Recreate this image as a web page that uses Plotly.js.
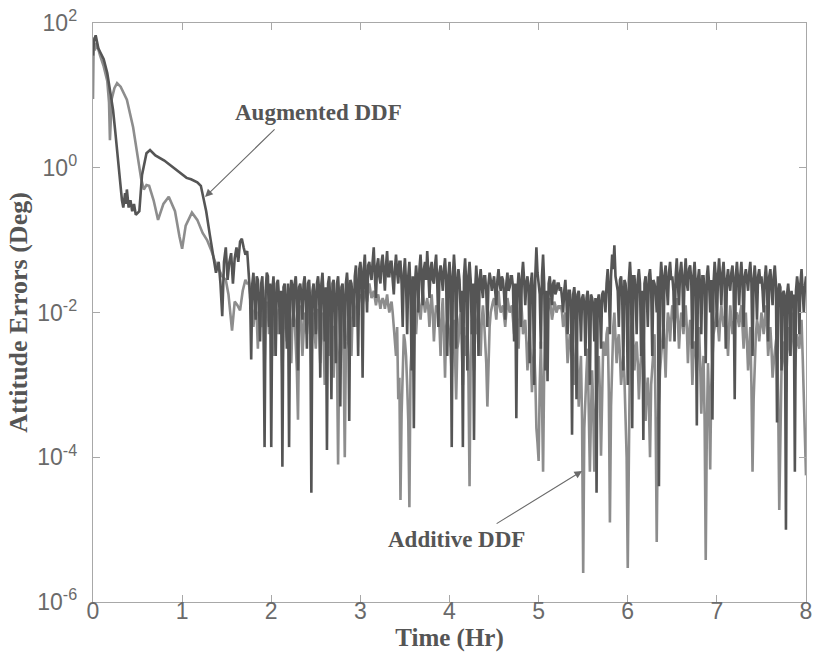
<!DOCTYPE html>
<html>
<head>
<meta charset="utf-8">
<script src="https://cdn.plot.ly/plotly-3.0.1.min.js"></script>
<style>html,body{margin:0;padding:0;background:#fff;}#chart{width:813px;height:657px;}</style>
</head>
<body>
<div id="chart"></div>
<script>
// ---- Data (y values stored as log10 of attitude error in degrees) ----
// Early transient, explicit time samples (hours)
var augEarlyT = [0,0.01,0.03,0.06,0.08,0.12,0.16,0.2,0.225,0.25,0.28,0.3,0.325,0.34,0.36,0.37,0.38,0.4,0.42,0.44,0.46,0.48,0.5,0.52,0.55,0.6,0.64,0.7,0.8,0.9,1.0,1.05,1.1,1.17,1.21,1.24,1.27,1.31,1.35,1.38,1.41,1.43,1.45,1.47,1.49,1.51,1.53,1.55,1.57,1.59,1.61,1.63,1.65,1.67,1.69,1.71,1.73];
var augEarlyLog = [1.55,1.75,1.83,1.65,1.6,1.5,1.31,1.0,0.8,0.5,0.11,-0.2,-0.45,-0.55,-0.35,-0.5,-0.3,-0.55,-0.45,-0.6,-0.5,-0.65,-0.62,-0.6,-0.1,0.2,0.245,0.17,0.1,0.0,-0.1,-0.14,-0.16,-0.2,-0.25,-0.42,-0.6,-0.92,-1.2,-1.45,-1.3,-1.6,-2.05,-1.3,-1.1,-1.55,-1.3,-1.18,-1.6,-1.25,-1.1,-1.3,-1.02,-0.98,-1.1,-1.2,-1.15];

var addEarlyT = [0,0.008,0.02,0.04,0.08,0.12,0.16,0.18,0.19,0.2,0.21,0.24,0.27,0.31,0.38,0.45,0.5,0.54,0.57,0.6,0.63,0.68,0.73,0.79,0.85,0.92,0.97,1.0,1.04,1.11,1.17,1.23,1.28,1.33,1.37,1.41,1.45,1.49,1.52,1.56,1.59,1.62,1.65,1.68,1.71,1.73];
var addEarlyLog = [0.95,1.8,1.62,1.72,1.55,1.4,1.2,0.9,0.38,0.7,0.95,1.1,1.17,1.12,0.94,0.56,0.2,-0.15,-0.3,-0.24,-0.25,-0.45,-0.72,-0.5,-0.4,-0.6,-0.95,-1.12,-0.8,-0.62,-0.72,-0.9,-1.0,-1.15,-1.3,-1.4,-1.5,-1.55,-1.75,-2.25,-1.85,-1.9,-1.97,-1.7,-1.55,-1.6];

// Steady-state noisy part, uniform time grid (each row = 0.25 hr)
var noiseStart = 1.75;
var noiseStep = 0.0125;
var augNoiseLog = [
-1.5,-1.75,-2.65,-1.6,-1.45,-1.7,-2.1,-1.5,-1.55,-1.9,-2.4,-1.6,-1.5,-2.0,-3.86,-1.7,-1.45,-1.5,-2.2,-1.6,
-3.86,-1.7,-1.5,-1.9,-2.6,-1.6,-1.55,-1.8,-2.3,-1.7,-4.13,-1.65,-1.6,-1.9,-2.5,-1.6,-3.86,-1.75,-1.55,-1.65,
-2.2,-1.6,-1.5,-1.8,-2.8,-1.65,-1.6,-1.75,-2.1,-1.6,-1.5,-1.85,-2.5,-1.6,-1.55,-1.9,-4.49,-1.7,-1.6,-1.8,
-2.3,-1.6,-1.5,-1.7,-2.9,-1.6,-1.45,-1.8,-2.4,-1.65,-3.9,-1.6,-1.5,-1.85,-3.2,-1.6,-1.55,-1.9,-2.7,-1.6,
-1.5,-1.8,-3.3,-1.65,-1.6,-1.9,-2.5,-1.6,-1.45,-1.7,-3.5,-1.55,-1.6,-1.8,-2.2,-1.5,-1.35,-1.7,-2.6,-1.4,
-1.3,-1.5,-2.9,-1.4,-1.2,-1.6,-2.0,-1.35,-1.3,-1.45,-1.55,-1.3,-1.1,-1.5,-1.8,-1.35,-1.25,-1.5,-1.6,-1.3,
-1.2,-1.45,-1.7,-1.35,-1.15,-1.5,-1.5,-1.3,-1.3,-1.55,-1.75,-1.4,-1.2,-1.45,-1.6,-1.3,-1.3,-1.6,-2.2,-1.45,
-1.25,-1.6,-2.3,-1.5,-1.3,-1.7,-2.8,-1.5,-3.6,-1.6,-1.35,-1.55,-2.0,-1.4,-1.2,-1.5,-1.9,-1.4,-1.3,-1.55,
-1.15,-1.45,-1.8,-1.4,-1.3,-1.55,-1.6,-1.35,-1.2,-1.6,-2.2,-1.45,-1.35,-1.5,-1.7,-1.4,-1.25,-1.55,-2.6,-1.5,
-1.3,-1.6,-3.86,-1.5,-1.2,-1.45,-2.5,-1.6,-1.4,-1.55,-2.0,-1.7,-3.86,-1.5,-1.25,-1.6,-2.8,-1.5,-1.3,-1.55,
-2.3,-1.6,-3.76,-1.7,-1.35,-1.6,-2.6,-1.55,-1.4,-1.65,-1.8,-1.5,-1.5,-1.7,-2.2,-1.6,-1.45,-1.55,-1.7,-1.6,
-1.5,-1.7,-1.9,-1.55,-1.4,-1.6,-1.7,-1.5,-1.55,-1.75,-2.1,-1.6,-1.45,-1.7,-1.65,-1.5,-1.5,-1.65,-2.4,-1.6,
-3.46,-1.7,-1.45,-1.6,-2.2,-1.5,-1.3,-1.55,-1.9,-1.6,-1.5,-1.7,-2.7,-1.6,-1.45,-1.75,-3.0,-1.5,-1.1,-1.45,
-1.6,-1.75,-2.5,-1.5,-1.2,-1.6,-2.8,-1.7,-2.95,-1.6,-1.5,-1.7,-1.9,-1.6,-1.55,-1.75,-1.7,-1.6,-1.6,-1.7,
-1.65,-1.8,-2.0,-1.7,-1.55,-1.85,-2.3,-1.7,-1.7,-1.9,-3.69,-1.75,-1.65,-1.85,-3.2,-1.75,-1.7,-1.9,-2.4,-1.8,
-1.75,-1.9,-2.6,-1.8,-1.7,-1.95,-3.0,-1.75,-1.8,-1.9,-2.4,-1.8,-4.49,-1.85,-1.75,-1.9,-2.5,-1.75,-1.7,-1.8,
-2.0,-1.6,-1.4,-1.7,-2.3,-1.5,-1.2,-1.4,-1.07,-1.5,-1.6,-1.7,-2.2,-1.55,-1.5,-1.75,-2.8,-1.55,-1.6,-1.8,
-3.0,-1.55,-1.3,-1.6,-3.6,-1.5,-1.5,-1.7,-2.3,-1.55,-1.4,-1.6,-2.6,-1.7,-3.76,-1.6,-1.5,-1.7,-2.2,-1.5,
-1.4,-1.65,-2.6,-1.55,-1.6,-1.7,-2.0,-1.5,-4.4,-1.6,-1.3,-1.55,-2.5,-1.5,-1.35,-1.6,-1.9,-1.45,-1.3,-1.55,
-1.5,-1.7,-2.4,-1.5,-1.25,-1.6,-1.9,-1.45,-1.3,-1.55,-2.2,-1.5,-1.25,-1.6,-1.7,-1.4,-1.35,-1.55,-2.5,-1.5,
-1.3,-1.6,-3.56,-1.55,-1.4,-1.65,-2.3,-1.5,-1.5,-1.7,-2.7,-1.5,-1.35,-1.6,-2.0,-1.55,-3.48,-1.6,-1.3,-1.5,
-2.2,-1.5,-1.25,-1.55,-1.9,-1.45,-1.3,-1.6,-2.5,-1.55,-1.4,-1.6,-1.7,-1.45,-1.35,-1.6,-3.2,-1.5,-1.3,-1.55,
-1.9,-1.5,-1.3,-1.6,-2.2,-1.5,-1.4,-1.55,-1.7,-1.45,-1.3,-1.6,-2.6,-1.55,-1.35,-1.6,-2.1,-1.5,-1.4,-1.6,
-1.5,-1.7,-2.0,-1.55,-1.35,-1.6,-2.4,-1.5,-1.4,-1.65,-1.9,-1.5,-1.35,-1.6,-3.52,-1.7,-1.6,-1.65,-2.8,-1.75,
-1.7,-1.8,-5.0,-1.75,-1.6,-1.8,-2.6,-1.7,-1.9,-1.75,-4.2,-1.7,-1.5,-1.65,-2.3,-1.6,-1.4,-1.7,-2.0,-1.65,
-1.5];
var addNoiseLog = [
-1.6,-1.8,-1.9,-2.0,-2.2,-1.95,-1.8,-2.1,-2.5,-2.0,-1.9,-2.2,-2.1,-1.9,-2.8,-2.0,-1.85,-2.0,-2.3,-1.9,
-2.0,-2.2,-2.6,-2.0,-1.9,-2.1,-2.3,-1.95,-2.1,-2.3,-2.9,-2.1,-1.95,-2.2,-2.4,-1.9,-2.0,-2.3,-2.7,-2.1,
-2.0,-2.1,-2.4,-2.8,-3.48,-2.2,-1.9,-2.1,-2.6,-2.2,-2.0,-2.15,-2.3,-2.0,-1.9,-2.2,-2.8,-2.1,-2.0,-2.3,
-2.5,-2.1,-1.95,-2.2,-2.7,-2.1,-2.0,-2.4,-3.0,-2.2,-2.1,-2.3,-2.6,-2.1,-1.9,-2.3,-2.9,-2.2,-2.2,-2.6,
-4.1,-2.6,-2.3,-2.1,-2.0,-2.7,-4.0,-2.5,-2.4,-2.1,-1.9,-2.2,-2.6,-2.0,-1.8,-2.0,-2.2,-1.9,-1.7,-1.8,
-1.75,-1.8,-1.9,-1.8,-1.7,-1.75,-1.85,-1.7,-1.6,-1.7,-1.8,-1.75,-1.7,-1.8,-1.9,-1.8,-1.75,-1.85,-1.95,-1.85,
-1.8,-1.85,-1.95,-1.85,-1.75,-1.9,-2.0,-1.9,-1.85,-2.0,-2.2,-2.4,-2.6,-2.2,-3.2,-2.9,-4.59,-3.4,-2.8,-2.3,
-2.4,-2.6,-3.0,-3.5,-4.69,-2.8,-2.5,-2.2,-2.0,-2.1,-2.3,-2.0,-1.8,-1.95,-2.1,-1.9,-1.7,-1.85,-2.0,-1.9,
-1.8,-1.95,-2.2,-1.9,-1.75,-2.0,-2.4,-2.1,-1.9,-1.95,-2.0,-2.2,-2.6,-2.0,-1.8,-2.3,-2.9,-2.2,-2.1,-2.2,
-2.3,-2.5,-2.9,-2.3,-2.1,-2.6,-3.2,-2.5,-2.4,-2.1,-2.0,-2.4,-3.0,-2.2,-2.6,-2.4,-2.3,-2.9,-4.4,-2.6,
-2.1,-2.4,-2.8,-2.2,-2.3,-2.1,-2.0,-2.3,-2.6,-2.1,-1.9,-2.1,-2.4,-2.7,-3.3,-2.5,-2.2,-2.0,-1.9,-1.85,
-1.8,-1.95,-2.1,-1.85,-1.7,-1.9,-2.0,-1.95,-1.9,-2.05,-2.2,-2.0,-1.8,-1.9,-2.0,-1.95,-1.9,-2.1,-2.3,-2.1,
-2.0,-2.2,-2.5,-2.0,-1.8,-2.0,-2.3,-2.2,-2.1,-2.4,-2.8,-2.5,-2.3,-2.6,-3.1,-2.7,-2.5,-2.9,-3.6,-3.8,
-4.05,-3.0,-2.4,-3.2,-4.2,-2.8,-2.2,-2.1,-2.0,-1.9,-1.8,-1.95,-2.1,-2.0,-1.85,-1.9,-2.0,-1.95,-1.9,-1.95,
-1.9,-2.0,-2.2,-2.1,-2.0,-2.3,-2.7,-2.5,-2.3,-2.4,-2.6,-2.8,-3.0,-2.6,-2.4,-2.8,-3.3,-2.9,-2.6,-3.5,
-5.6,-3.6,-3.1,-2.8,-2.5,-3.2,-4.2,-3.4,-2.8,-3.3,-4.2,-3.5,-3.0,-2.7,-2.6,-3.1,-3.98,-2.9,-2.4,-2.5,
-2.6,-2.3,-2.2,-3.1,-4.9,-3.3,-2.5,-2.2,-2.0,-2.3,-2.7,-2.4,-2.3,-2.6,-3.0,-2.8,-2.6,-2.9,-3.4,-4.0,
-5.53,-3.5,-2.5,-2.2,-2.1,-2.4,-2.8,-2.5,-2.4,-2.7,-3.2,-2.8,-2.6,-2.3,-2.2,-2.8,-3.5,-3.1,-2.9,-3.3,
-4.0,-3.0,-2.7,-2.4,-2.3,-3.4,-5.17,-3.6,-3.1,-2.8,-2.6,-2.3,-2.2,-2.5,-2.9,-2.3,-2.0,-2.1,-2.4,-2.1,
-1.9,-2.0,-2.2,-1.95,-1.8,-2.1,-2.5,-2.2,-2.0,-2.1,-2.3,-2.05,-1.9,-2.2,-2.7,-2.3,-2.1,-2.4,-3.0,-2.6,
-2.4,-2.5,-2.8,-2.4,-2.2,-2.7,-3.4,-2.9,-2.6,-3.5,-5.42,-3.6,-2.7,-3.2,-4.17,-3.0,-2.5,-2.3,-2.2,-2.1,
-2.0,-2.2,-2.4,-2.1,-1.9,-2.05,-2.2,-2.1,-2.0,-2.3,-2.6,-2.2,-1.9,-2.1,-2.3,-2.15,-2.1,-2.05,-2.0,-2.1,
-2.2,-2.0,-1.9,-2.2,-2.5,-2.2,-2.0,-2.4,-2.8,-2.5,-2.2,-3.0,-4.2,-3.2,-2.6,-2.3,-2.1,-2.2,-2.4,-2.2,
-2.0,-2.15,-2.3,-2.1,-1.9,-2.2,-2.6,-2.4,-2.2,-2.5,-2.9,-2.7,-2.5,-2.4,-2.3,-3.2,-4.73,-3.4,-2.8,-2.6,
-2.4,-2.7,-3.1,-2.6,-2.2,-2.4,-2.6,-2.3,-2.0,-2.4,-2.8,-2.5,-2.3,-2.4,-2.5,-2.3,-2.1,-2.6,-3.2,-3.6,
-4.25];

var yTickVals = [1e-6, 1e-4, 1e-2, 1e0, 1e2];
var yTickText = ['10<sup>-6</sup>', '10<sup>-4</sup>', '10<sup>-2</sup>', '10<sup>0</sup>', '10<sup>2</sup>'];
var xTickVals = [0, 1, 2, 3, 4, 5, 6, 7, 8];

// ---- Build series ----
function buildSeries(earlyT, earlyLog, noiseLog) {
  var x = earlyT.slice();
  var y = earlyLog.map(function (v) { return Math.pow(10, v); });
  for (var i = 0; i < noiseLog.length; i++) {
    x.push(+(noiseStart + i * noiseStep).toFixed(5));
    y.push(Math.pow(10, noiseLog[i]));
  }
  return {x: x, y: y};
}
var aug = buildSeries(augEarlyT, augEarlyLog, augNoiseLog);
var add = buildSeries(addEarlyT, addEarlyLog, addNoiseLog);

var traces = [
  {x: add.x, y: add.y, type: 'scatter', mode: 'lines', name: 'Additive DDF',
   line: {color: '#8d8d8d', width: 2.6}},
  {x: aug.x, y: aug.y, type: 'scatter', mode: 'lines', name: 'Augmented DDF',
   line: {color: '#555555', width: 2.6}}
];

var axisCommon = {
  showline: true, linecolor: '#a8a8a8', linewidth: 1.3, mirror: 'ticks',
  ticks: 'inside', ticklen: 7, tickwidth: 1.2, tickcolor: '#a8a8a8',
  showgrid: false, zeroline: false,
  tickfont: {family: 'Liberation Sans, Arial, sans-serif', size: 23, color: '#6a6a6a'}
};

var annFont = {family: 'Liberation Serif, Times New Roman, serif', size: 23, color: '#555555'};
var titleFontX = {family: 'Liberation Serif, Times New Roman, serif', size: 25, color: '#555555'};
var titleFontY = {family: 'Liberation Serif, Times New Roman, serif', size: 26, color: '#555555'};

var layout = {
  width: 813, height: 657,
  margin: {l: 93, r: 7, t: 23, b: 55},
  paper_bgcolor: '#ffffff', plot_bgcolor: '#ffffff',
  showlegend: false,
  xaxis: Object.assign({}, axisCommon, {
    range: [0, 8], tickmode: 'array', tickvals: xTickVals,
    ticklabelstandoff: -12,
    title: {text: '<b>Time (Hr)</b>', font: titleFontX, standoff: 4}
  }),
  yaxis: Object.assign({}, axisCommon, {
    type: 'log', range: [-6, 2], tickmode: 'array',
    tickvals: yTickVals, ticktext: yTickText,
    ticklabelstandoff: 10,
    title: {text: '<b>Attitude Errors (Deg)</b>', font: titleFontY, standoff: 2}
  }),
  annotations: [
    {xref: 'x', yref: 'y', x: 2.525, y: 0.757, text: '<b>Augmented DDF</b>',
     showarrow: false, font: annFont},
    {xref: 'x', yref: 'y', x: 1.257, y: -0.403, axref: 'x', ayref: 'y',
     ax: 2.054, ay: 0.55, text: '', showarrow: true, arrowhead: 2,
     arrowsize: 1.4, arrowwidth: 1.1, arrowcolor: '#6a6a6a'},
    {xref: 'x', yref: 'y', x: 4.074, y: -5.14, text: '<b>Additive DDF</b>',
     showarrow: false, font: annFont},
    {xref: 'x', yref: 'y', x: 5.488, y: -4.19, axref: 'x', ayref: 'y',
     ax: 4.512, ay: -4.93, text: '', showarrow: true, arrowhead: 2,
     arrowsize: 1.4, arrowwidth: 1.1, arrowcolor: '#6a6a6a'}
  ]
};

Plotly.newPlot('chart', traces, layout, {staticPlot: true, displayModeBar: false});
</script>
</body>
</html>
